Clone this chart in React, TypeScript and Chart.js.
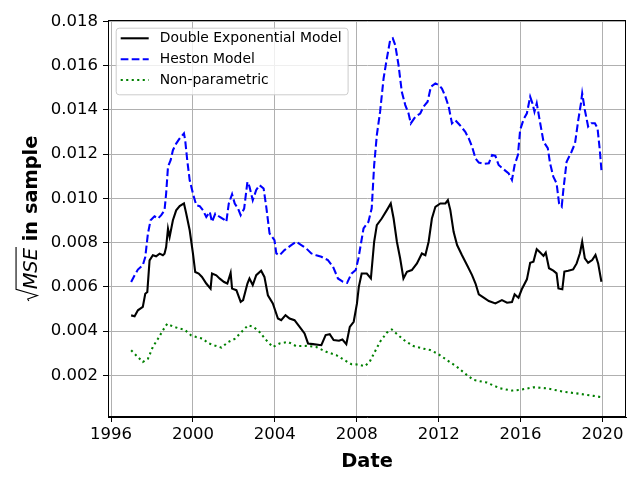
import React, { useEffect, useRef } from "react";
import { Chart, registerables } from "chart.js";

Chart.register(...registerables);

// series labels (legend order)
const seriesLabels = ["Double Exponential Model", "Heston Model", "Non-parametric"];

// Double Exponential Model
const deYears = [
  1996.98, 1997.15, 1997.31, 1997.55, 1997.67, 1997.77, 1997.88, 1998.04, 1998.2, 1998.37,
  1998.53, 1998.61, 1998.69, 1998.78, 1998.86, 1999.02, 1999.18, 1999.35, 1999.56, 1999.67,
  1999.84, 2000.0, 2000.11, 2000.28, 2000.44, 2000.65, 2000.86, 2000.93, 2001.14, 2001.31,
  2001.52, 2001.68, 2001.84, 2001.91, 2002.12, 2002.33, 2002.45, 2002.66, 2002.76, 2002.92,
  2003.09, 2003.33, 2003.49, 2003.66, 2003.9, 2004.15, 2004.31, 2004.52, 2004.72, 2004.96,
  2005.21, 2005.45, 2005.62, 2005.86, 2006.27, 2006.48, 2006.68, 2006.87, 2007.13, 2007.3,
  2007.49, 2007.66, 2007.85, 2008.01, 2008.1, 2008.24, 2008.49, 2008.69, 2008.85, 2008.98,
  2009.22, 2009.47, 2009.66, 2009.8, 2009.96, 2010.12, 2010.28, 2010.45, 2010.69, 2010.94,
  2011.18, 2011.35, 2011.51, 2011.67, 2011.84, 2012.08, 2012.33, 2012.45, 2012.57, 2012.73,
  2012.9, 2013.14, 2013.39, 2013.63, 2013.8, 2013.96, 2014.2, 2014.45, 2014.77, 2015.09,
  2015.34, 2015.58, 2015.71, 2015.9, 2016.06, 2016.31, 2016.47, 2016.63, 2016.79, 2016.96,
  2017.12, 2017.23, 2017.39, 2017.6, 2017.76, 2017.85, 2018.04, 2018.14, 2018.33, 2018.57,
  2018.74, 2018.9, 2019.01, 2019.14, 2019.3, 2019.5, 2019.66, 2019.79, 2019.95,
];
const deValues = [
  0.00471, 0.00467, 0.00494, 0.00509, 0.00569, 0.00577, 0.0072, 0.00743, 0.00738, 0.0075,
  0.00743, 0.0075, 0.0078, 0.00863, 0.00826, 0.00901, 0.00946, 0.00965, 0.00977, 0.00932,
  0.00856, 0.0075, 0.00667, 0.0066, 0.00645, 0.00615, 0.00592, 0.0066, 0.00652, 0.00637,
  0.00622, 0.00615, 0.00663, 0.00592, 0.00585, 0.00532, 0.0054, 0.00615, 0.00638, 0.00608,
  0.00653, 0.00673, 0.00645, 0.00562, 0.00525, 0.00457, 0.00449, 0.00472, 0.00457, 0.00449,
  0.00419, 0.00389, 0.00344, 0.00341, 0.00336, 0.00382, 0.00386, 0.00359, 0.00356, 0.00362,
  0.00341, 0.00419, 0.00442, 0.00525, 0.006, 0.0066, 0.0066, 0.00638, 0.00804, 0.00879,
  0.00909, 0.00947, 0.00977, 0.00909, 0.00804, 0.00728, 0.00638, 0.00668, 0.00676, 0.00706,
  0.00751, 0.00743, 0.00804, 0.00909, 0.00962, 0.00977, 0.00977, 0.00992, 0.00947, 0.00849,
  0.00789, 0.00743, 0.00698, 0.00653, 0.00615, 0.00566, 0.00551, 0.00536, 0.00525, 0.0054,
  0.00528, 0.00531, 0.00566, 0.00551, 0.00589, 0.00634, 0.00709, 0.00714, 0.0077, 0.00755,
  0.0074, 0.00755, 0.00684, 0.00673, 0.00661, 0.00593, 0.00589, 0.00669, 0.00673, 0.00679,
  0.00706, 0.00752, 0.00804, 0.00729, 0.00709, 0.00721, 0.00744, 0.00706, 0.00623,
];

// Heston Model
const hsYears = [
  1996.98, 1997.15, 1997.31, 1997.55, 1997.67, 1997.8, 1997.93, 1998.12, 1998.29, 1998.45,
  1998.61, 1998.69, 1998.78, 1998.91, 1999.02, 1999.18, 1999.35, 1999.56, 1999.62, 1999.72,
  1999.84, 2000.0, 2000.16, 2000.33, 2000.49, 2000.65, 2000.82, 2000.93, 2001.09, 2001.31,
  2001.52, 2001.63, 2001.75, 2001.91, 2002.04, 2002.2, 2002.33, 2002.5, 2002.66, 2002.76,
  2002.92, 2003.09, 2003.25, 2003.45, 2003.58, 2003.74, 2003.98, 2004.07, 2004.23, 2004.47,
  2004.8, 2005.04, 2005.29, 2005.53, 2005.78, 2006.02, 2006.27, 2006.59, 2006.84, 2007.08,
  2007.33, 2007.53, 2007.74, 2007.95, 2008.08, 2008.33, 2008.57, 2008.73, 2008.85, 2008.98,
  2009.14, 2009.31, 2009.47, 2009.63, 2009.76, 2009.88, 2010.04, 2010.2, 2010.37, 2010.53,
  2010.64, 2010.86, 2011.1, 2011.26, 2011.46, 2011.62, 2011.84, 2012.0, 2012.16, 2012.33,
  2012.49, 2012.65, 2012.81, 2013.03, 2013.3, 2013.47, 2013.63, 2013.8, 2013.96, 2014.2,
  2014.45, 2014.61, 2014.77, 2014.93, 2015.17, 2015.42, 2015.58, 2015.71, 2015.87, 2015.98,
  2016.15, 2016.31, 2016.47, 2016.58, 2016.68, 2016.79, 2016.96, 2017.12, 2017.33, 2017.44,
  2017.6, 2017.76, 2017.88, 2018.01, 2018.09, 2018.25, 2018.49, 2018.66, 2018.82, 2018.95,
  2019.01, 2019.14, 2019.3, 2019.46, 2019.63, 2019.76, 2019.87, 2019.95,
];
const hsValues = [
  0.00622, 0.00652, 0.00678, 0.00698, 0.00735, 0.00841, 0.00901, 0.00919, 0.00909, 0.00924,
  0.00946, 0.01022, 0.01143, 0.01173, 0.01218, 0.01248, 0.01271, 0.01294, 0.01263, 0.01173,
  0.01082, 0.01022, 0.00969, 0.00965, 0.00946, 0.00916, 0.00939, 0.00894, 0.00931, 0.00916,
  0.00904, 0.00894, 0.00977, 0.01019, 0.00977, 0.00954, 0.00924, 0.00954, 0.01075, 0.01053,
  0.00992, 0.01038, 0.0106, 0.01045, 0.00962, 0.00842, 0.00811, 0.00751, 0.00743, 0.00766,
  0.00789, 0.00804, 0.00789, 0.00774, 0.00751, 0.00743, 0.00736, 0.00721, 0.00691, 0.00638,
  0.00623, 0.00618, 0.0066, 0.00676, 0.00728, 0.00864, 0.00894, 0.00955, 0.01151, 0.01286,
  0.01392, 0.01543, 0.01633, 0.01716, 0.01724, 0.01693, 0.01603, 0.01482, 0.01422, 0.01384,
  0.01339, 0.01369, 0.01384, 0.01415, 0.01437, 0.01505, 0.0152, 0.01513, 0.01497, 0.0146,
  0.01415, 0.01339, 0.01354, 0.01332, 0.01301, 0.01271, 0.01234, 0.01181, 0.01162, 0.01156,
  0.01159, 0.01196, 0.01192, 0.01151, 0.01132, 0.01113, 0.01083, 0.01151, 0.01196, 0.0131,
  0.01358, 0.01385, 0.0146, 0.0143, 0.01392, 0.0143, 0.0134, 0.01257, 0.01227, 0.01159,
  0.01098, 0.01068, 0.00978, 0.00963, 0.01038, 0.01166, 0.01211, 0.01249, 0.01355, 0.0143,
  0.01475, 0.014, 0.01325, 0.0134, 0.0134, 0.01317, 0.01219, 0.01128,
];

// Non-parametric
const npYears = [
  1996.98, 1997.23, 1997.55, 1997.8, 1998.04, 1998.29, 1998.53, 1998.74, 1999.02, 1999.35,
  1999.59, 1999.92, 2000.16, 2000.49, 2000.73, 2001.06, 2001.39, 2001.71, 2002.04, 2002.37,
  2002.69, 2002.94, 2003.25, 2003.58, 2003.9, 2004.23, 2004.64, 2005.04, 2005.53, 2006.02,
  2006.51, 2007.0, 2007.41, 2007.74, 2008.06, 2008.39, 2008.63, 2008.88, 2009.14, 2009.47,
  2009.71, 2010.04, 2010.37, 2010.77, 2011.18, 2011.59, 2011.95, 2012.4, 2012.88, 2013.37,
  2013.7, 2014.35, 2015.0, 2015.57, 2015.98, 2016.63, 2017.28, 2018.09, 2018.91, 2019.56,
  2019.97,
];
const npValues = [
  0.00313, 0.0029, 0.0026, 0.00275, 0.00328, 0.00365, 0.00403, 0.00433, 0.00421, 0.00411,
  0.00406, 0.0038, 0.00373, 0.00365, 0.00346, 0.00335, 0.00325, 0.0035, 0.00365, 0.00396,
  0.00426, 0.0042, 0.00396, 0.00359, 0.00328, 0.00344, 0.00351, 0.00332, 0.00333, 0.00328,
  0.00306, 0.00291, 0.00268, 0.0025, 0.00249, 0.00241, 0.00261, 0.00306, 0.00352, 0.00393,
  0.00407, 0.0038, 0.00355, 0.00332, 0.00322, 0.00314, 0.00298, 0.00269, 0.00239, 0.00202,
  0.00179, 0.00167, 0.00141, 0.00131, 0.00134, 0.00146, 0.00141, 0.00126, 0.00116, 0.00107,
  0.00101,
];

// tick labels
const xTicks = [1996, 2000, 2004, 2008, 2012, 2016, 2020];
const yTicks = [0.002, 0.004, 0.006, 0.008, 0.01, 0.012, 0.014, 0.016, 0.018];

const FONT = "DejaVu Sans";

const toPoints = (xs: number[], ys: number[]) => xs.map((x, i) => ({ x, y: ys[i] }));

// spines, legend and axis titles drawn in matplotlib style
const decorPlugin = {
  id: "decor",
  afterDraw(chart: Chart) {
    const ctx = chart.ctx;
    const ca = chart.chartArea;
    ctx.save();

    // top/right spines (left/bottom come from the axis borders)
    ctx.strokeStyle = "#000";
    ctx.lineWidth = 1;
    ctx.strokeRect(Math.round(ca.left) + 0.5, Math.round(ca.top) + 0.5, Math.round(ca.right - ca.left) - 1, Math.round(ca.bottom - ca.top) - 1);

    // legend
    const fs = 13.9;
    ctx.font = `${fs}px "${FONT}"`;
    const boxX = ca.left + 7.7;
    const boxY = ca.top + 7.7;
    const lineX0 = boxX + 5;
    const lineX1 = lineX0 + 28;
    const textX = lineX1 + 11;
    const maxW = Math.max(...seriesLabels.map((l) => ctx.measureText(l).width));
    const boxW = textX + maxW + 6 - boxX;
    const boxH = 66.6;
    ctx.beginPath();
    ctx.roundRect(boxX + 0.5, boxY + 0.5, boxW, boxH, 3);
    ctx.fillStyle = "rgba(255,255,255,0.8)";
    ctx.fill();
    ctx.strokeStyle = "#cccccc";
    ctx.stroke();
    const rows = [10.6, 31.6, 52.3];
    chart.data.datasets.forEach((ds: any, i: number) => {
      const y = boxY + rows[i];
      ctx.beginPath();
      ctx.setLineDash(ds.borderDash || []);
      ctx.lineCap = "butt";
      ctx.strokeStyle = ds.borderColor;
      ctx.lineWidth = ds.borderWidth;
      ctx.moveTo(lineX0, y);
      ctx.lineTo(lineX1, y);
      ctx.stroke();
      ctx.setLineDash([]);
      ctx.fillStyle = "#000";
      ctx.textBaseline = "middle";
      ctx.textAlign = "left";
      ctx.fillText(seriesLabels[i], textX, y + 0.5);
    });

    // x title
    ctx.font = `bold 19.4px "${FONT}"`;
    ctx.textAlign = "center";
    ctx.textBaseline = "alphabetic";
    ctx.fillStyle = "#000";
    ctx.fillText("Date", (ca.left + ca.right) / 2, 467);

    // y title: sqrt(MSE) in sample, rotated
    const em = 19.4;
    ctx.font = `italic ${em}px "${FONT}"`;
    const mseW = ctx.measureText("MSE").width;
    ctx.font = `bold ${em}px "${FONT}"`;
    const restW = ctx.measureText(" in sample").width;
    const radW = 0.62 * em;
    const total = radW + mseW + restW;
    ctx.translate(37, (ca.top + ca.bottom) / 2);
    ctx.rotate(-Math.PI / 2);
    let x = -total / 2;
    ctx.beginPath();
    ctx.lineWidth = 1.1;
    ctx.strokeStyle = "#000";
    ctx.moveTo(x + 0.02 * em, -0.42 * em);
    ctx.lineTo(x + 0.12 * em, -0.48 * em);
    ctx.lineTo(x + 0.3 * em, 0.02 * em);
    ctx.lineTo(x + radW, -1.08 * em);
    ctx.lineTo(x + radW + mseW + 1, -1.08 * em);
    ctx.stroke();
    x += radW;
    ctx.textAlign = "left";
    ctx.font = `italic ${em}px "${FONT}"`;
    ctx.fillText("MSE", x, 0);
    x += mseW;
    ctx.font = `bold ${em}px "${FONT}"`;
    ctx.fillText(" in sample", x, 0);

    ctx.restore();
  },
};

const axisCommon = {
  type: "linear" as const,
  grid: {
    color: "#b0b0b0",
    lineWidth: 1,
    tickColor: "#000",
    tickLength: 5,
    tickWidth: 1,
  },
  border: { color: "#000", width: 1 },
};

const App = () => {
  const chartRef = useRef<HTMLCanvasElement>(null);

  useEffect(() => {
    if (!chartRef.current) return;
    const chart = new Chart(chartRef.current, {
      type: "line",
      data: {
        datasets: [
          {
            label: seriesLabels[0],
            data: toPoints(deYears, deValues),
            borderColor: "#000000",
            borderWidth: 2.08,
            pointRadius: 0,
            tension: 0,
          },
          {
            label: seriesLabels[1],
            data: toPoints(hsYears, hsValues),
            borderColor: "#0000ff",
            borderWidth: 2.08,
            borderDash: [7.7, 3.3],
            pointRadius: 0,
            tension: 0,
          },
          {
            label: seriesLabels[2],
            data: toPoints(npYears, npValues),
            borderColor: "#008000",
            borderWidth: 2.08,
            borderDash: [2.1, 3.4],
            pointRadius: 0,
            tension: 0,
          },
        ],
      },
      options: {
        responsive: false,
        animation: false,
        layout: { padding: { top: 20, right: 14, left: 0, bottom: 0 } },
        plugins: {
          legend: { display: false },
          tooltip: { enabled: false },
        },
        scales: {
          x: {
            ...axisCommon,
            min: 1995.85,
            max: 2021.15,
            afterBuildTicks: (s: any) => {
              s.ticks = xTicks.map((v) => ({ value: v }));
            },
            afterFit: (s: any) => {
              s.height = 63;
            },
            ticks: {
              autoSkip: false,
              maxRotation: 0,
              padding: 3,
              color: "#000",
              font: { family: FONT, size: 16.5 },
              callback: (v: any) => String(v),
            },
          },
          y: {
            ...axisCommon,
            min: 0.000114,
            max: 0.018068,
            afterBuildTicks: (s: any) => {
              s.ticks = yTicks.map((v) => ({ value: v }));
            },
            afterFit: (s: any) => {
              s.width = 108;
            },
            ticks: {
              autoSkip: false,
              padding: 5,
              color: "#000",
              font: { family: FONT, size: 16.5 },
              callback: (v: any) => Number(v).toFixed(3),
            },
          },
        },
      },
      plugins: [decorPlugin],
    });
    return () => chart.destroy();
  }, []);

  return (
    <div style={{ position: "absolute", left: 0, top: 0, width: 640, height: 480, background: "#fff" }}>
      <canvas ref={chartRef} width={640} height={480} />
    </div>
  );
};

export default App;
